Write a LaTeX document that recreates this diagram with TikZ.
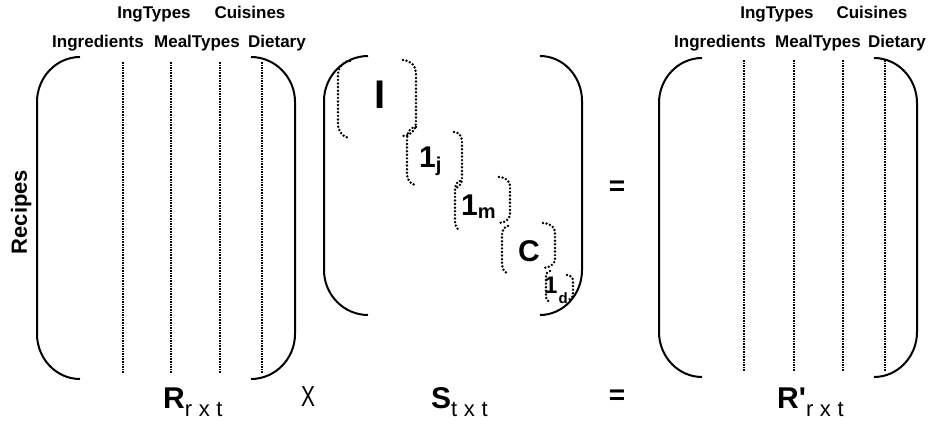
\documentclass[tikz,border=0pt]{standalone}
\usepackage{fontspec}
\setmainfont{Liberation Sans}
\newfontfamily\rawsans{Liberation Sans}
\usepackage{graphicx}
\tikzset{
  brkline/.style={line width=2pt},
  coldots/.style={line width=2.4pt, dash pattern=on 1.6pt off 1pt},
  innerdots/.style={line width=2.7pt, dash pattern=on 0pt off 3.6pt, line cap=round},
  lab/.style={font=\fontsize{17}{17}\selectfont\bfseries, inner sep=0pt, anchor=base},
  big/.style={inner sep=0pt, anchor=base west},
}
% style, x of end, x of vertical, y top, y bottom, radius
\newcommand{\parbrk}[6]{\draw[#1] (#2,#4) .. controls ({#3+0.45*(#2-#3)},#4) and (#3,{#4+0.45*#6}) .. (#3,{#4+#6}) -- (#3,{#5-#6}) .. controls (#3,{#5-0.45*#6}) and ({#3+0.45*(#2-#3)},#5) .. (#2,#5);}
\newcommand{\subx}[3]{\raisebox{#1}{\fontsize{#2}{#2}\selectfont #3}}
\begin{document}
\begin{tikzpicture}[x=1pt,y=-1pt]
\useasboundingbox (0,0) rectangle (932,424);
% ---------- R ----------
\parbrk{brkline}{80}{37}{57}{379}{45}
\parbrk{brkline}{251}{295}{57}{379}{45}
\foreach \x in {123,171,220,262} \draw[coldots] (\x,62) -- (\x,373);
\node[lab] (ingA) at (98,47.5) {Ingredients};
\node[lab] (mealA) at (197,47.5) {MealTypes};
\node[lab] (dietA) at (277,47.5) {Dietary};
\node[lab] (ingtA) at (154,18) {IngTypes};
\node[lab] (cuiA) at (250,18) {Cuisines};
\node[inner sep=0pt, anchor=base, rotate=90, font=\fontsize{22}{22}\selectfont\bfseries] (rec) at (27,212) {Recipes};
% ---------- S ----------
\parbrk{brkline}{368}{324}{56}{315}{45}
\parbrk{brkline}{540}{582}{56}{315}{45}
\parbrk{innerdots}{350}{338}{61}{138}{14}
\parbrk{innerdots}{403}{416}{60}{136}{13}
\parbrk{innerdots}{416}{407}{127}{185}{11}
\parbrk{innerdots}{454}{462}{132}{188}{9}
\parbrk{innerdots}{460}{455}{181}{230}{9}
\parbrk{innerdots}{499}{510}{177}{223}{9}
\parbrk{innerdots}{508}{502}{226}{273}{9}
\parbrk{innerdots}{543}{555}{223}{268}{9}
\parbrk{innerdots}{550}{546}{271}{302}{6}
\parbrk{innerdots}{567}{573}{275}{300}{6}
\node[inner sep=0pt, font=\fontsize{40}{40}\selectfont\bfseries] (blkI) at (380,95) {I};
\node[big] (blkj) at (419,167) {\fontsize{30}{30}\selectfont\bfseries 1\subx{-4pt}{20}{j}};
\node[big] (blkm) at (461,215) {\fontsize{30}{30}\selectfont\bfseries 1\subx{-3pt}{20}{m}};
\node[inner sep=0pt, font=\fontsize{30}{30}\selectfont\bfseries] (blkC) at (529,251) {C};
\node[big] (blkd) at (544,293) {\fontsize{24}{24}\selectfont\bfseries 1\hspace{1pt}\subx{-10pt}{15}{d}};
% ---------- R' ----------
\parbrk{brkline}{702}{659}{58}{377}{45}
\parbrk{brkline}{874}{917}{58}{377}{45}
\foreach \x in {744,794,843,885} \draw[coldots] (\x,60) -- (\x,372);
\node[lab] (ingB) at (720,47.5) {Ingredients};
\node[lab] (mealB) at (818,47.5) {MealTypes};
\node[lab] (dietB) at (897,47.5) {Dietary};
\node[lab] (ingtB) at (777,18) {IngTypes};
\node[lab] (cuiB) at (872,18) {Cuisines};
% ---------- operators and names ----------
\node[inner sep=0pt, font=\fontsize{28}{28}\selectfont\bfseries] (eqA) at (617,188) {=};
\node[inner sep=0pt, font=\fontsize{28}{28}\selectfont\bfseries] (eqB) at (617,397) {=};
\node[inner sep=0pt, anchor=base, font=\fontsize{29}{29}\selectfont] (times) at (308,406) {\scalebox{0.72}[1]{X}};
\node[big] (Rlab) at (163,408) {\fontsize{30}{30}\selectfont\bfseries R\subx{-8pt}{22}{\mdseries r\hspace{0.3em}x\hspace{0.3em}t}};
\node[big] (Slab) at (431,408) {\fontsize{30}{30}\selectfont\bfseries S\subx{-8pt}{22}{\mdseries t\hspace{0.3em}x\hspace{0.3em}t}};
\node[big] (RPlab) at (777,408) {\fontsize{30}{30}\selectfont\bfseries R{\rawsans '}\subx{-8pt}{22}{\mdseries r\hspace{0.3em}x\hspace{0.3em}t}};
\end{tikzpicture}
\end{document}
